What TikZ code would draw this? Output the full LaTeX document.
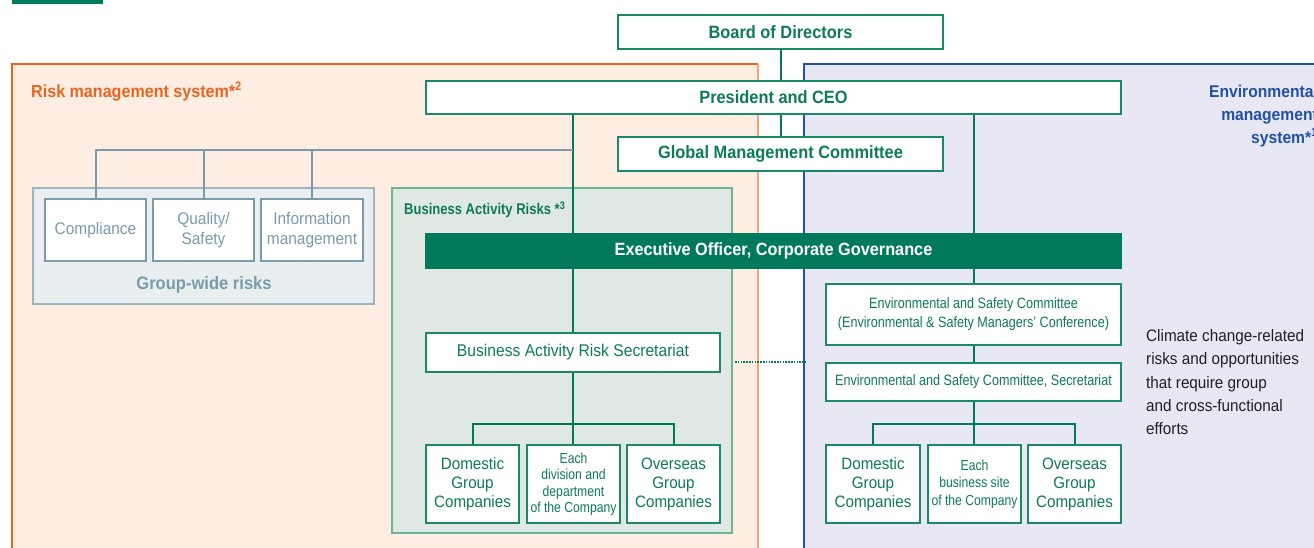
\documentclass[tikz,border=0pt]{standalone}
\usepackage{fontspec}
\setmainfont{Liberation Sans}
\newfontfamily\cond{Liberation Sans}[FakeStretch=0.84]
\newfontfamily\semi{Liberation Sans}[FakeStretch=0.92]
\definecolor{dkgreen}{HTML}{007A5A}
\definecolor{bgreen}{HTML}{1A8A66}
\definecolor{tgreen}{HTML}{0E7A59}
\definecolor{orng}{HTML}{E9651F}
\definecolor{orngl}{HTML}{F2A57C}
\definecolor{peach}{HTML}{FDEDE2}
\definecolor{lav}{HTML}{E8E8F4}
\definecolor{envblue}{HTML}{2251A3}
\definecolor{bafill}{HTML}{E0E8E3}
\definecolor{baline}{HTML}{6DB395}
\definecolor{gwfill}{HTML}{E9EEF1}
\definecolor{gwline}{HTML}{9DB5BF}
\definecolor{gblue}{HTML}{7A9CA8}
\definecolor{txtdark}{HTML}{231F20}
\pgfdeclarelayer{regions}
\pgfdeclarelayer{lines}
\pgfsetlayers{regions,lines,main}
\tikzset{
  gbox/.style={draw=bgreen, line width=1.4pt, fill=white, inner sep=0pt, align=center, text=tgreen},
  titlebox/.style={gbox, font=\semi\bfseries\fontsize{17.8}{20}\selectfont},
  execbox/.style={draw=dkgreen, line width=1.4pt, fill=dkgreen, inner sep=0pt, align=center, text=white, font=\semi\bfseries\fontsize{17.7}{20}\selectfont},
  smallbox/.style={gbox, font=\cond\fontsize{15}{17}\selectfont},
  compbox/.style={gbox, font=\semi\fontsize{16.5}{19}\selectfont},
  riskbox/.style={draw=gblue, line width=1.4pt, fill=white, inner sep=0pt, align=center, text=gblue, font=\semi\fontsize{16.8}{20}\selectfont},
  gline/.style={draw=dkgreen, line width=2pt},
  greyline/.style={draw=gblue, line width=2pt},
}
\begin{document}
\begin{tikzpicture}[x=1pt,y=-1pt]
\useasboundingbox (0,0) rectangle (1314,547);
\clip (0,0) rectangle (1314,547);
% nodes
\node[titlebox, minimum width=325, minimum height=34] (board) at (780.5,32) {Board of Directors};
\node[titlebox, minimum width=695, minimum height=33] (pres) at (773.5,97.5) {President and CEO};
\node[titlebox, minimum width=325, minimum height=34] (gmc) at (780.5,154) {Global Management Committee};
\node[execbox, minimum width=695, minimum height=34] (exec) at (773.5,251) {Executive Officer, Corporate Governance};
\node[gbox, font=\semi\fontsize{17}{19}\selectfont, minimum width=294, minimum height=39] (bars) at (573,352.5) {Business Activity Risk Secretariat};
\node[compbox, minimum width=93, minimum height=78] (dom1) at (472.5,484) {Domestic\\Group\\Companies};
\node[smallbox, minimum width=93, minimum height=78, font=\cond\fontsize{14.5}{16.5}\selectfont] (each1) at (573.5,484) {Each\\division and\\department\\of the Company};
\node[compbox, minimum width=93, minimum height=78] (over1) at (673.5,484) {Overseas\\Group\\Companies};
\node[smallbox, minimum width=295, minimum height=61, font=\cond\fontsize{15}{19}\selectfont] (esc) at (973.5,314.5) {Environmental and Safety Committee\\(Environmental \& Safety Managers’ Conference)};
\node[smallbox, minimum width=295, minimum height=38] (escs) at (973.5,382) {Environmental and Safety Committee, Secretariat};
\node[compbox, minimum width=94, minimum height=78] (dom2) at (873,484) {Domestic\\Group\\Companies};
\node[smallbox, minimum width=93, minimum height=78, font=\cond\fontsize{14.5}{17.5}\selectfont] (each2) at (974.5,484) {Each\\business site\\of the Company};
\node[compbox, minimum width=93, minimum height=78] (over2) at (1074.5,484) {Overseas\\Group\\Companies};
\node[riskbox, minimum width=101, minimum height=62] (comp) at (95.5,230) {Compliance};
\node[riskbox, minimum width=101, minimum height=62] (qual) at (203.5,230) {Quality/\\Safety};
\node[riskbox, minimum width=102, minimum height=62] (info) at (312,230) {Information\\management};
% labels
\node[anchor=west, inner sep=0pt, text=orng, font=\semi\bfseries\fontsize{17.5}{19}\selectfont] (rmslabel) at (31,91.5) {Risk management system*\textsuperscript{2}};
\node[anchor=west, inner sep=0pt, text=tgreen, font=\cond\bfseries\fontsize{15.5}{18}\selectfont] (balabel) at (404,210) {Business Activity Risks *\textsuperscript{3}};
\node[inner sep=0pt, text=gblue, font=\semi\bfseries\fontsize{18}{20}\selectfont] (gwlabel) at (204,284.5) {Group-wide risks};
\node[anchor=north east, inner sep=0pt, align=right, text=envblue, font=\semi\bfseries\fontsize{17}{23}\selectfont] (envlabel) at (1318,84.5) {Environmental\\management\\system*\textsuperscript{1}};
\node[anchor=north west, inner sep=0pt, align=left, text=txtdark, font=\semi\fontsize{16.6}{23.2}\selectfont] (climate) at (1146,329.5) {Climate change-related\\risks and opportunities\\that require group\\and cross-functional\\efforts};
% regions
\begin{pgfonlayer}{regions}
\fill[white] (0,0) rectangle (1314,547);
\fill[dkgreen] (12,-5) rectangle (103,4);
\fill[peach] (12,64) rectangle (758,560);
\draw[orng, line width=1.4pt] (12,560) -- (12,64) -- (758,64);
\draw[orngl, line width=1.4pt] (758,64) -- (758,560);
\fill[lav] (804,64) rectangle (1320,560);
\draw[envblue, line width=1.4pt] (804,560) -- (804,64) -- (1320,64);
\draw[fill=gwfill, draw=gwline, line width=1.4pt] (33,188) rectangle (374,304);
\draw[fill=bafill, draw=baline, line width=1.4pt] (392,188) rectangle (732,533);
\end{pgfonlayer}
% connectors
\begin{pgfonlayer}{lines}
\draw[gline] (board.south) -- (gmc.north);
\draw[gline] (bars.north |- pres.south) -- (bars.north |- exec.north);
\draw[gline] (bars.north |- exec.south) -- (bars.north);
\draw[gline] (bars.south) -- (bars.south |- each1.north);
\coordinate (lj) at (573,424);
\draw[gline] (dom1.north) |- (lj) -| (over1.north);
\coordinate (gj) at (573,150);
\draw[greyline] (comp.north) |- (gj);
\draw[greyline] (qual.north) -- (qual.north |- gj);
\draw[greyline] (info.north) -- (info.north |- gj);
\draw[gline] (esc.north |- pres.south) -- (esc.north |- exec.north);
\draw[gline] (esc.north |- exec.south) -- (esc.north);
\draw[gline] (esc.south) -- (escs.north);
\draw[gline] (escs.south) -- (escs.south |- each2.north);
\coordinate (rj) at (973.5,424);
\draw[gline] (dom2.north) |- (rj) -| (over2.north);
\coordinate (d1) at (735,362);
\coordinate (d2) at (806,362);
\draw[dkgreen, line width=2.8pt, dash pattern=on 1.6pt off 1.2pt] (d1) -- (d2);
\end{pgfonlayer}
\end{tikzpicture}
\end{document}
